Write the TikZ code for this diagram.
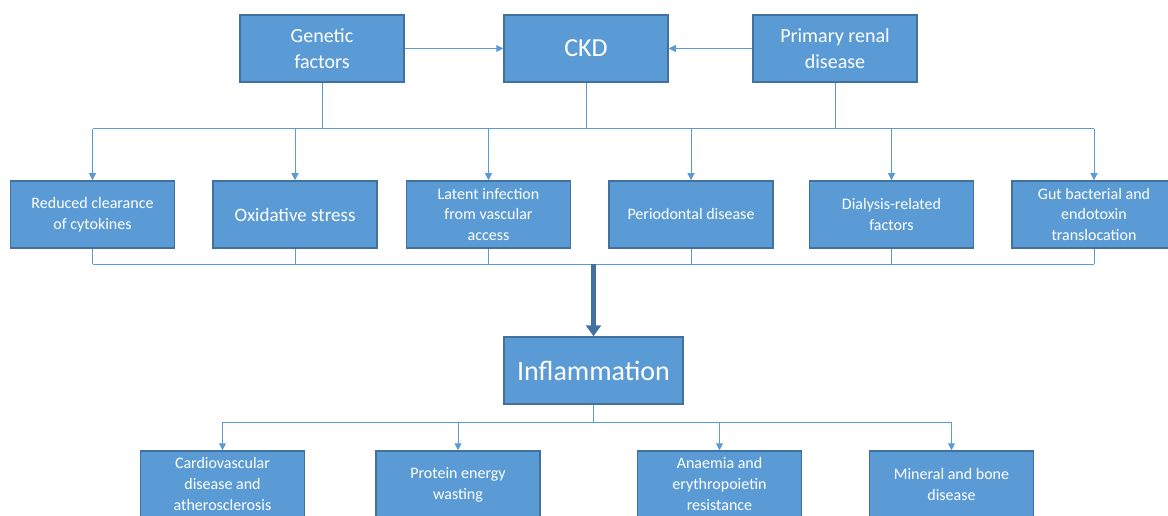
\documentclass[tikz,border=0pt]{standalone}
\usepackage{fontspec}
\setmainfont{Carlito}
\usepackage{tikz}
\usetikzlibrary{arrows.meta}
\usetikzlibrary{positioning}
\usetikzlibrary{calc}
\definecolor{boxfill}{HTML}{5B9BD5}
\definecolor{boxline}{HTML}{41719C}
\definecolor{wirecol}{HTML}{5B9BD5}

\begin{document}
\begin{tikzpicture}[
  x=1pt, y=-1pt,
  dep/.style ={
    -{Triangle[width=7pt,length=7pt]}, draw=wirecol, line width=1pt
  },
  wire/.style ={
    draw=wirecol, line width=1pt
  },
  fat/.style ={
    -{Triangle[width=15pt,length=11pt]}, draw=boxline, line width=5pt
  },
  blk/.style 2 args={
    rectangle,
    draw=boxline,
    fill=boxfill,
    line width=1.5pt,
    minimum width=164pt,
    minimum height=67pt,
    inner sep=2pt,
    text=white,
    align=center,
    font=\fontsize{#1}{#2}\selectfont},
]

  \useasboundingbox (0,0) rectangle (1168,516);

  \def\lvltop{48.5}%
  \def\lvlmid{214.5}%
  \def\lvlinf{370.5}%
  \def\lvlbot{484.5}%

  % Causes of CKD
  \node[blk={20}{26}] (gen) at (322, \lvltop) {Genetic\\factors};
  \node[blk={26}{30}] (ckd) at (586, \lvltop) {CKD};
  \node[blk={20}{26}] (prd) at (835, \lvltop) {Primary renal\\disease};
  \draw[dep] (gen.east) -- (ckd.west);
  \draw[dep] (prd.west) -- (ckd.east);

  % Sources of inflammation
  \foreach \x/\name/\txt in {
      92.5/m1/{Reduced clearance\\of cytokines},
      488.5/m3/{Latent infection\\from vascular\\access},
      691/m4/{Periodontal disease},
      891.5/m5/{Dialysis-related\\factors},
      1094/m6/{Gut bacterial and\\endotoxin\\translocation}} {
    \node[blk={16}{20.5}] (\name) at (\x, \lvlmid) {\txt};
  }
  \node[blk={19}{22}] (m2) at (295, \lvlmid) {Oxidative stress};

  \coordinate (topbus) at (0,129);
  \coordinate (midbus) at (0,264);
  \coordinate (lowbus) at (0,422);

  \foreach \n in {gen,ckd,prd} {
    \draw[wire] (\n.south) -- (\n.south |- topbus);
  }
  \draw[wire] (m1.north |- topbus) -- (m6.north |- topbus);
  \foreach \n in {m1,m2,m3,m4,m5,m6} {
    \draw[dep] (\n.north |- topbus) -- (\n.north);
    \draw[wire] (\n.south) -- (\n.south |- midbus);
  }
  \draw[wire] (m1.south |- midbus) -- (m6.south |- midbus);

  % Inflammation
  \node[blk={28}{32}, minimum width=179pt] (inf) at (593.5, \lvlinf)
      {Inflammation};
  \draw[fat] (inf.north |- midbus) -- (inf.north);

  % Consequences
  \foreach \x/\name/\txt in {
      222.5/b1/{Cardiovascular\\disease and\\atherosclerosis},
      458/b2/{Protein energy\\wasting},
      719.5/b3/{Anaemia and\\erythropoietin\\resistance},
      951.5/b4/{Mineral and bone\\disease}} {
    \node[blk={16}{21}] (\name) at (\x, \lvlbot) {\txt};
  }
  \draw[wire] (inf.south) -- (inf.south |- lowbus);
  \draw[wire] (b1.north |- lowbus) -- (b4.north |- lowbus);
  \foreach \n in {b1,b2,b3,b4} {
    \draw[dep] (\n.north |- lowbus) -- (\n.north);
  }

\end{tikzpicture}
\end{document}
